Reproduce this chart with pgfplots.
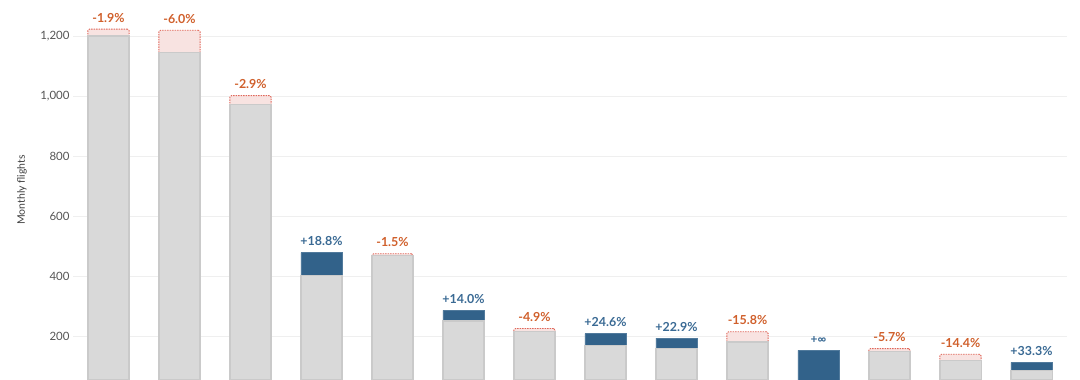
\documentclass[border=0pt]{standalone}
\usepackage{fontspec}
\setmainfont{Lato}
\usepackage{pgfplots}
\pgfplotsset{compat=1.18}
\definecolor{incblue}{HTML}{32628A}
\definecolor{inclabel}{HTML}{3A6A94}
\definecolor{declabel}{HTML}{D0602C}
\definecolor{decfill}{HTML}{F8E3E1}
\definecolor{decedge}{HTML}{E0675A}
\definecolor{basefill}{HTML}{D9D9D9}
\definecolor{baseedge}{HTML}{CACACA}
\definecolor{gridc}{HTML}{EFEFEF}
\definecolor{tickc}{HTML}{555555}
\begin{document}
\begin{tikzpicture}
\begin{axis}[
  at={(73bp,0)}, anchor=south west,
  width=994bp, height=380bp, scale only axis,
  xmin=-0.5, xmax=13.5, ymin=53.3, ymax=1320,
  axis line style={draw=none},
  xtick=\empty,
  ytick={200,400,600,800,1000,1200},
  ymajorgrids, grid style={gridc, line width=0.8bp},
  major tick length=0pt,
  yticklabel style={tickc, font=\fontsize{11.5}{12}\selectfont},
  /pgf/number format/1000 sep={,},
  /pgf/number format/assume math mode=true,
  ylabel={Monthly flights},
  ylabel style={at={(axis description cs:0,0.5)}, yshift=51bp, anchor=center, color=black!75, font=\fontsize{10.5}{12}\selectfont},
  ybar, bar width=0.58, bar shift=0pt,
  point meta=explicit symbolic,
]
% previous-period values where the count fell (dashed boxes)
\addplot[fill=decfill, draw=decedge, line width=0.9bp, dash pattern=on 1.5bp off 1bp, rounded corners=1.5bp,
  nodes near coords, every node near coord/.append style={anchor=base, inner sep=0pt, yshift=7bp, text=declabel, font=\bfseries\fontsize{12.5}{13}\selectfont}]
coordinates {(0,1223) [{-1.9\%}] (1,1219) [{-6.0\%}] (2,1001) [{-2.9\%}] (4,474) [{-1.5\%}]
 (6,225) [{-4.9\%}] (9,214) [{-15.8\%}] (11,158) [{-5.7\%}] (12,139) [{-14.4\%}]};
% current values where the count rose
\addplot[fill=incblue, draw=incblue!85!white, line width=0.5bp,
  nodes near coords, every node near coord/.append style={anchor=base, inner sep=0pt, yshift=7bp, text=inclabel, font=\bfseries\fontsize{12.5}{13}\selectfont}]
coordinates {(3,478) [{+18.8\%}] (5,285) [{+14.0\%}] (7,208) [{+24.6\%}] (8,193) [{+22.9\%}]
 (10,152) [{\fontsize{12}{12}\selectfont +∞}] (13,112) [{+33.3\%}]};
% common base (smaller of the two periods)
\addplot[fill=basefill, draw=baseedge, line width=1.2bp]
coordinates {(0,1200) [] (1,1146) [] (2,972) [] (3,402) [] (4,467) [] (5,250) [] (6,214) []
 (7,167) [] (8,157) [] (9,180) [] (11,149) [] (12,119) [] (13,84) []};
\end{axis}
\pgfresetboundingbox
\useasboundingbox (0,0) rectangle (1080bp,380bp);
\end{tikzpicture}
\end{document}
